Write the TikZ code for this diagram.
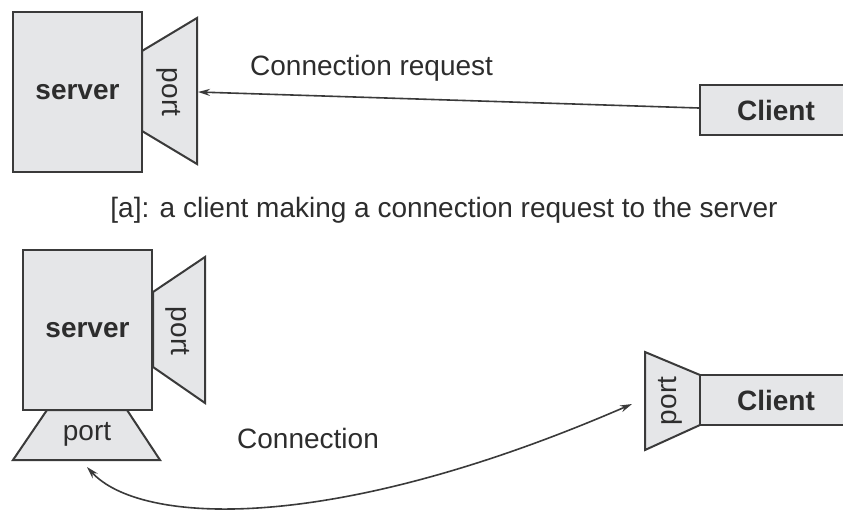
\documentclass[tikz,border=0pt]{standalone}
\usepackage{fontspec}
\setmainfont{Liberation Sans}
\usetikzlibrary{arrows.meta}
\definecolor{boxfill}{RGB}{229,230,232}
\definecolor{edge}{RGB}{58,58,58}
\definecolor{ink}{RGB}{45,45,45}
\begin{document}
\begin{tikzpicture}[x=1pt,y=-1pt,
  txt/.style={font=\fontsize{28}{32}\selectfont, text=ink, inner sep=0pt},
  boxtxt/.style={font=\fontsize{28}{32}\selectfont\bfseries, text=ink},
  srv/.style={draw=edge, fill=boxfill, line width=2.4pt, minimum width=129pt,
    minimum height=160pt, boxtxt, inner sep=0pt},
  cli/.style={draw=edge, fill=boxfill, line width=2.4pt, minimum width=152pt,
    minimum height=50pt, boxtxt, inner sep=0pt},
  portshape/.style={draw=edge, fill=boxfill, line width=2pt, line join=miter},
  link/.style={draw=edge, line width=1.6pt},
  tip/.tip={Stealth[length=12pt,width=7pt]}]
\useasboundingbox (0,0) rectangle (843,511);
\clip (0,0) rectangle (843,511);

% ---- upper part: client asking for a connection ----
\path[portshape] (142,51) -- (197,18) -- (197,164) -- (142,131) -- cycle;
\node[srv] (srvA) at (77.5,92) {server};
\node[txt, rotate=-90] (portA) at (169,92) {port};
\coordinate (inA) at (198,92);
\node[cli] (cliA) at (776,110) {Client};
\draw[link, -tip] ([yshift=2pt]cliA.west) -- (inA);
\node[txt, anchor=base west] (reqlbl) at (250,76) {Connection request};
\node[txt, anchor=base] (capA) at (444,217)
  {[a]: a client making a connection request to the server};

% ---- lower part: established connection ----
\path[portshape] (153,292) -- (205,257) -- (205,403) -- (153,367) -- cycle;
\path[portshape] (47,410) -- (127,410) -- (160,460) -- (13,460) -- cycle;
\node[srv] (srvB) at (87.5,330) {server};
\node[txt, rotate=-90] (portB) at (178,331) {port};
\node[txt] (portC) at (87,434) {port};
\path[portshape] (645,352) -- (700,375) -- (700,425) -- (645,450) -- cycle;
\node[cli] (cliB) at (776,400) {Client};
\node[txt, rotate=90] (portD) at (670,401) {port};
\coordinate (endL) at (87,467);
\coordinate (endR) at (632,404);
\draw[link, tip-tip] (endL) .. controls (140,525) and (330,535) .. (endR);
\node[txt, anchor=base west] (connlbl) at (237,448) {Connection};
\end{tikzpicture}
\end{document}
